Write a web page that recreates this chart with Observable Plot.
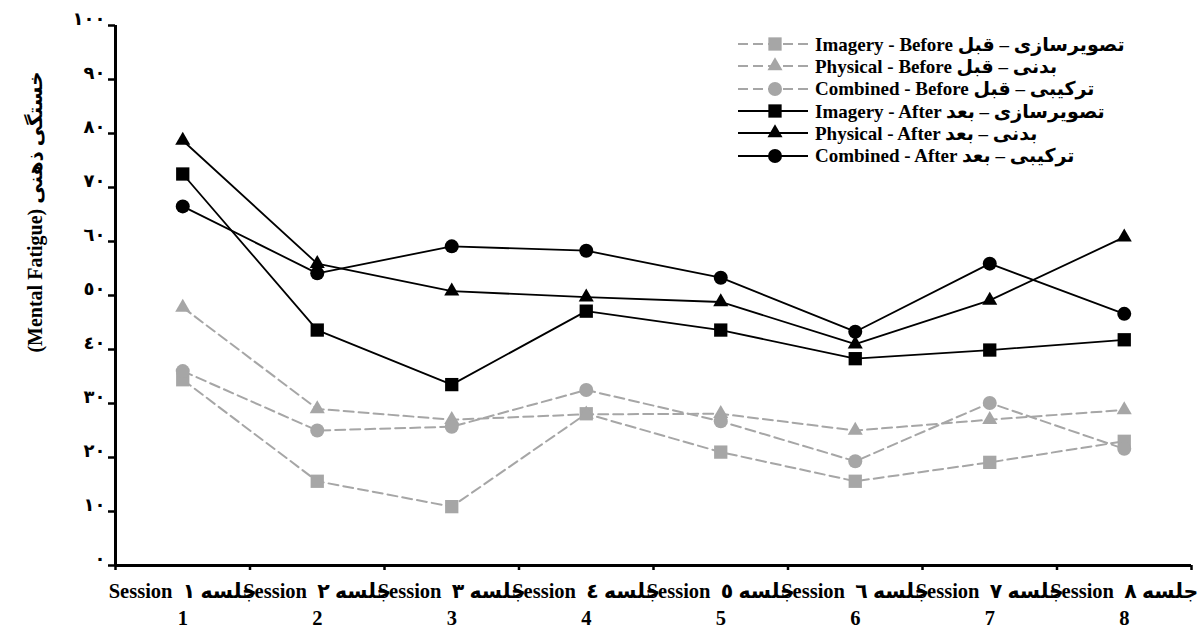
<!DOCTYPE html>
<html><head><meta charset="utf-8">
<script src="https://cdn.jsdelivr.net/npm/d3@7"></script>
<script src="https://cdn.jsdelivr.net/npm/@observablehq/plot@0.6"></script>
<style>
body{margin:0;background:#fff;}
#wrap{position:relative;width:1200px;height:635px;font-family:"Liberation Serif","DejaVu Sans",serif;font-weight:bold;color:#000;}
#wrap svg{font-family:"Liberation Serif","DejaVu Sans",serif;font-weight:bold;}
g[aria-label="y-axis tick"] path, g[aria-label="x-axis tick"] path{stroke-width:2.5px;}
#ytitle{position:absolute;left:35px;top:212px;transform:translate(-50%,-50%) rotate(-90deg);white-space:nowrap;font-size:20px;}
#legend{position:absolute;left:738px;top:33px;font-size:19px;}
.row{display:flex;align-items:center;height:22.3px;white-space:nowrap;}
.row span{margin-left:7px;}
</style></head><body><div id="wrap"></div>
<script>
const sessions = [1, 2, 3, 4, 5, 6, 7, 8];
const sessionWordEn = "Session";
const sessionWordFa = ["جلسه ١","جلسه ٢","جلسه ٣","جلسه ٤","جلسه ٥","جلسه ٦","جلسه ٧","جلسه ٨"];
const sessionNumbers = ["1","2","3","4","5","6","7","8"];
const yTicks = [0, 10, 20, 30, 40, 50, 60, 70, 80, 90, 100];
const yTickLabels = ["٠","١٠","٢٠","٣٠","٤٠","٥٠","٦٠","٧٠","٨٠","٩٠","١٠٠"];
const yTitle = "(Mental Fatigue) خستگی ذهنی";

const seriesNames = [
  "Imagery - Before تصویرسازی – قبل",
  "Physical - Before بدنی – قبل",
  "Combined - Before ترکیبی – قبل",
  "Imagery - After تصویرسازی – بعد",
  "Physical - After بدنی – بعد",
  "Combined - After ترکیبی – بعد"
];
const imageryBefore  = [34.4, 15.6, 10.9, 28.1, 21.0, 15.6, 19.1, 23.0];
const physicalBefore = [47.8, 29.0, 27.0, 28.0, 28.1, 25.0, 27.0, 28.8];
const combinedBefore = [36.0, 25.0, 25.7, 32.5, 26.7, 19.3, 30.1, 21.6];
const imageryAfter   = [72.5, 43.6, 33.5, 47.1, 43.6, 38.3, 39.9, 41.8];
const physicalAfter  = [78.7, 55.9, 50.8, 49.7, 48.8, 41.0, 49.1, 60.8];
const combinedAfter  = [66.5, 54.1, 59.1, 58.3, 53.3, 43.3, 55.9, 46.6];

const seriesValues = [imageryBefore, physicalBefore, combinedBefore, imageryAfter, physicalAfter, combinedAfter];
const seriesShape = ["square", "triangle", "circle", "square", "triangle", "circle"];
const seriesPhase = ["before", "before", "before", "after", "after", "after"];
const GRAY = "#a6a6a6";
const shapeR = {square: 7.5, triangle: 5.6, circle: 7};

const rows = [];
seriesNames.forEach((name, i) => {
  seriesValues[i].forEach((v, j) => rows.push({series: name, session: sessions[j], value: v, shape: seriesShape[i], phase: seriesPhase[i]}));
});
const before = rows.filter(d => d.phase === "before");
const after = rows.filter(d => d.phase === "after");

function dots(data, color) {
  return ["square", "triangle", "circle"].map(s => Plot.dot(data.filter(d => d.shape === s), {
    x: "session", y: "value", symbol: () => s, r: shapeR[s], fill: color, stroke: "none"
  }));
}

const boundaries = sessions.map(s => s - 0.5).concat([sessions[sessions.length - 1] + 0.5]);

const chart = Plot.plot({
  width: 1200, height: 635,
  marginTop: 25, marginBottom: 70, marginLeft: 115, marginRight: 9,
  x: {domain: [0.5, 8.5]},
  y: {domain: [0, 100]},
  symbol: {type: "identity"},
  marks: [
    Plot.line(before, {x: "session", y: "value", z: "series", stroke: GRAY, strokeWidth: 2, strokeDasharray: "10,5"}),
    ...dots(before, GRAY),
    Plot.line(after, {x: "session", y: "value", z: "series", stroke: "#000", strokeWidth: 1.8}),
    ...dots(after, "#000"),
    Plot.axisY({ticks: yTicks, tickSize: 7, tickFormat: () => "", label: null}),
    Plot.text(yTicks, {y: d => d, text: (d, i) => yTickLabels[i], frameAnchor: "left", dx: -10, dy: -6,
      textAnchor: "end", fontSize: 18, fontWeight: "bold"}),
    Plot.axisX({ticks: boundaries, tickSize: 5, tickFormat: () => "", label: null}),
    Plot.axisX({ticks: sessions, tickSize: 0, tickPadding: 14, fontSize: 20.5, lineHeight: 1.3,
      tickFormat: d => `${sessionWordEn}  ${sessionWordFa[d - 1]}\n${sessionNumbers[d - 1]}`, label: null}),
    Plot.ruleX([0.5], {stroke: "#000", strokeWidth: 3}),
    Plot.ruleY([0], {stroke: "#000", strokeWidth: 3})
  ]
});
const wrap = document.getElementById("wrap");
wrap.appendChild(chart);

const t = document.createElement("div");
t.id = "ytitle"; t.textContent = yTitle; wrap.appendChild(t);

const legend = document.createElement("div");
legend.id = "legend";
seriesNames.forEach((name, i) => {
  const row = document.createElement("div"); row.className = "row";
  const color = seriesPhase[i] === "before" ? GRAY : "#000";
  const svg = d3.create("svg").attr("width", 70).attr("height", 22);
  svg.append("line").attr("x1", 0).attr("x2", 70).attr("y1", 11).attr("y2", 11)
    .attr("stroke", color).attr("stroke-width", seriesPhase[i] === "before" ? 2 : 1.8)
    .attr("stroke-dasharray", seriesPhase[i] === "before" ? "10,5" : null);
  const st = {square: d3.symbolSquare, triangle: d3.symbolTriangle, circle: d3.symbolCircle}[seriesShape[i]];
  const r = shapeR[seriesShape[i]];
  svg.append("path").attr("transform", "translate(37,11)")
    .attr("d", d3.symbol(st, Math.PI * r * r)()).attr("fill", color);
  row.appendChild(svg.node());
  const sp = document.createElement("span"); sp.textContent = name; row.appendChild(sp);
  legend.appendChild(row);
});
wrap.appendChild(legend);
</script>
</body></html>
